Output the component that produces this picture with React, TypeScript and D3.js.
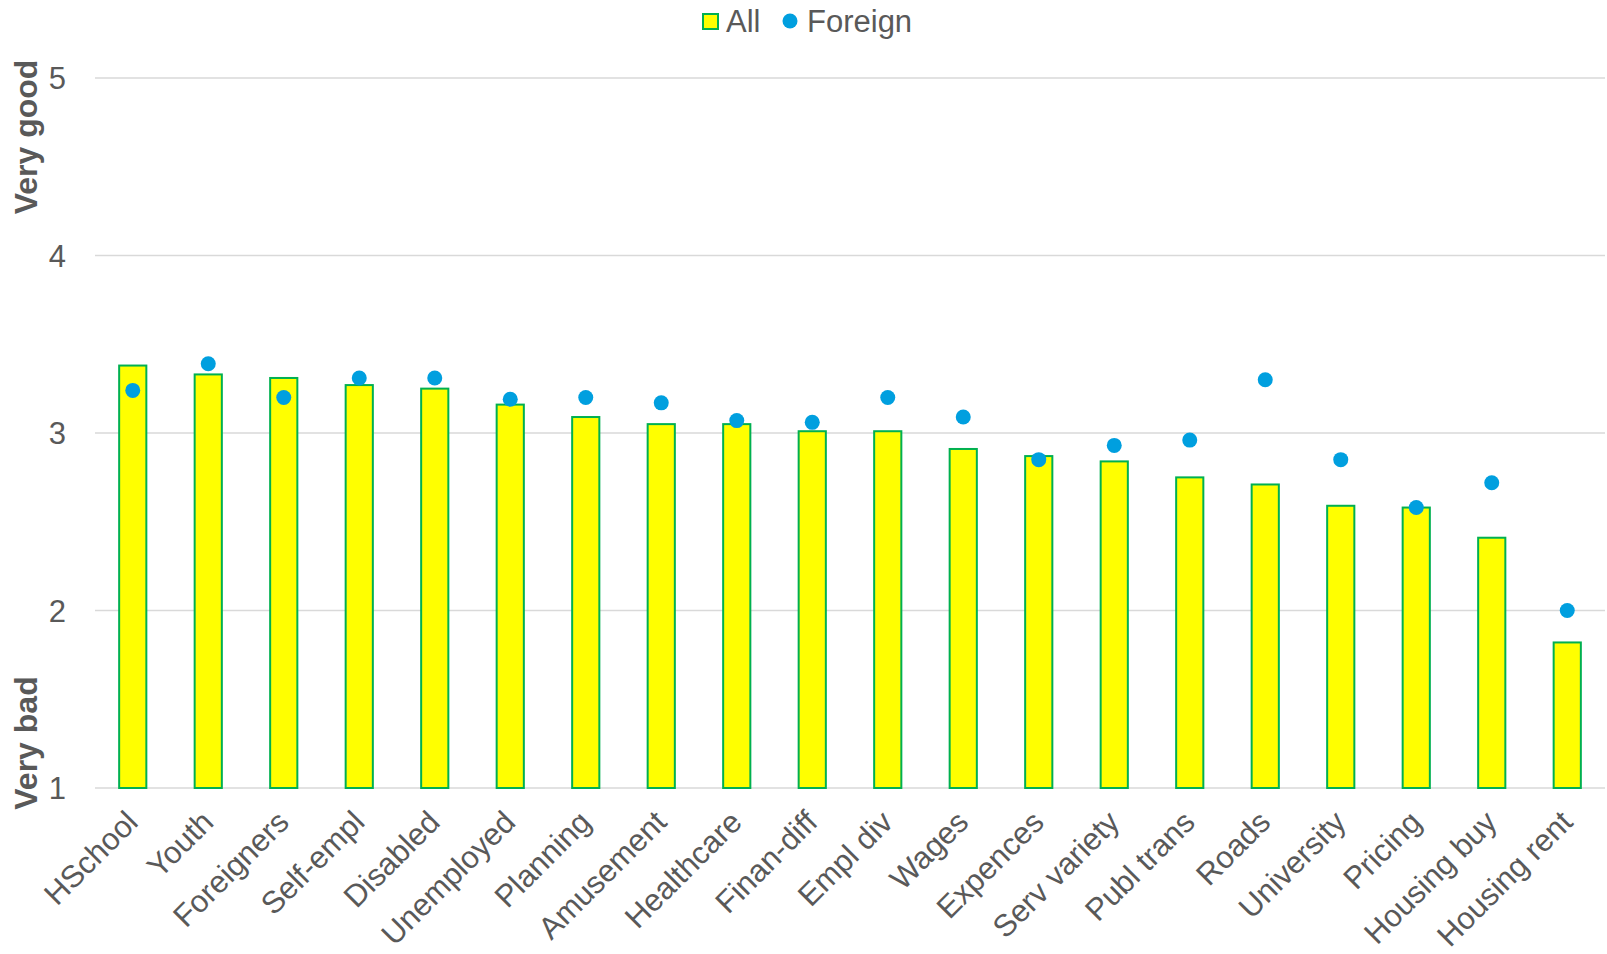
import React from "react";
import * as d3 from "d3";

const categories = [
  "HSchool", "Youth", "Foreigners", "Self-empl", "Disabled", "Unemployed",
  "Planning", "Amusement", "Healthcare", "Finan-diff", "Empl div", "Wages",
  "Expences", "Serv variety", "Publ trans", "Roads", "University", "Pricing",
  "Housing buy", "Housing rent",
];
const allValues = [
  3.38, 3.33, 3.31, 3.27, 3.25, 3.16, 3.09, 3.05, 3.05, 3.01, 3.01, 2.91,
  2.87, 2.84, 2.75, 2.71, 2.59, 2.58, 2.41, 1.82,
];
const foreignValues = [
  3.24, 3.39, 3.20, 3.31, 3.31, 3.19, 3.20, 3.17, 3.07, 3.06, 3.20, 3.09,
  2.85, 2.93, 2.96, 3.30, 2.85, 2.58, 2.72, 2.00,
];
const yTicks = [1, 2, 3, 4, 5];
const seriesNames = ["All", "Foreign"];

const W = 1607;
const H = 954;
const FONT = "'Liberation Sans', Arial, sans-serif";
const TEXT = "#595959";

export default function App() {
  const x = d3
    .scaleBand<string>()
    .domain(categories)
    .range([95, 1605])
    .paddingInner(0.64)
    .paddingOuter(0.32);
  const y = d3.scaleLinear().domain([1, 5]).range([788, 78]);
  const bw = x.bandwidth();

  return (
    <svg
      width={W}
      height={H}
      style={{ position: "absolute", left: 0, top: 0, background: "#fff" }}
      fontFamily={FONT}
    >
      {yTicks.map((t) => (
        <g key={t}>
          <line x1={95} x2={1605} y1={y(t)} y2={y(t)} stroke="#d9d9d9" strokeWidth={1.5} />
          <text x={66} y={y(t)} dy="0.36em" textAnchor="end" fontSize={31} fill={TEXT}>
            {t}
          </text>
        </g>
      ))}
      {categories.map((c, i) => (
        <rect
          key={c}
          x={x(c)!}
          y={y(allValues[i])}
          width={bw}
          height={y(1) - y(allValues[i])}
          fill="#ffff00"
          stroke="#00b050"
          strokeWidth={2}
        />
      ))}
      {categories.map((c, i) => (
        <circle
          key={c}
          cx={x(c)! + bw / 2}
          cy={y(foreignValues[i])}
          r={7.5}
          fill="#009fdf"
        />
      ))}
      {categories.map((c) => {
        const cx = x(c)! + bw / 2;
        return (
          <text
            key={c}
            transform={`translate(${cx + 7},${824}) rotate(-45)`}
            textAnchor="end"
            fontSize={31}
            fill={TEXT}
          >
            {c}
          </text>
        );
      })}
      <text
        transform="translate(37,137) rotate(-90)"
        textAnchor="middle"
        fontSize={32}
        fontWeight="bold"
        fill={TEXT}
      >
        Very good
      </text>
      <text
        transform="translate(37,743) rotate(-90)"
        textAnchor="middle"
        fontSize={32}
        fontWeight="bold"
        fill={TEXT}
      >
        Very bad
      </text>
      <g>
        <rect x={703} y={14} width={15} height={15} fill="#ffff00" stroke="#00b050" strokeWidth={2} />
        <text x={726} y={32} fontSize={31} fill={TEXT}>
          {seriesNames[0]}
        </text>
        <circle cx={790} cy={21} r={7.5} fill="#009fdf" />
        <text x={807} y={32} fontSize={31} fill={TEXT}>
          {seriesNames[1]}
        </text>
      </g>
    </svg>
  );
}
